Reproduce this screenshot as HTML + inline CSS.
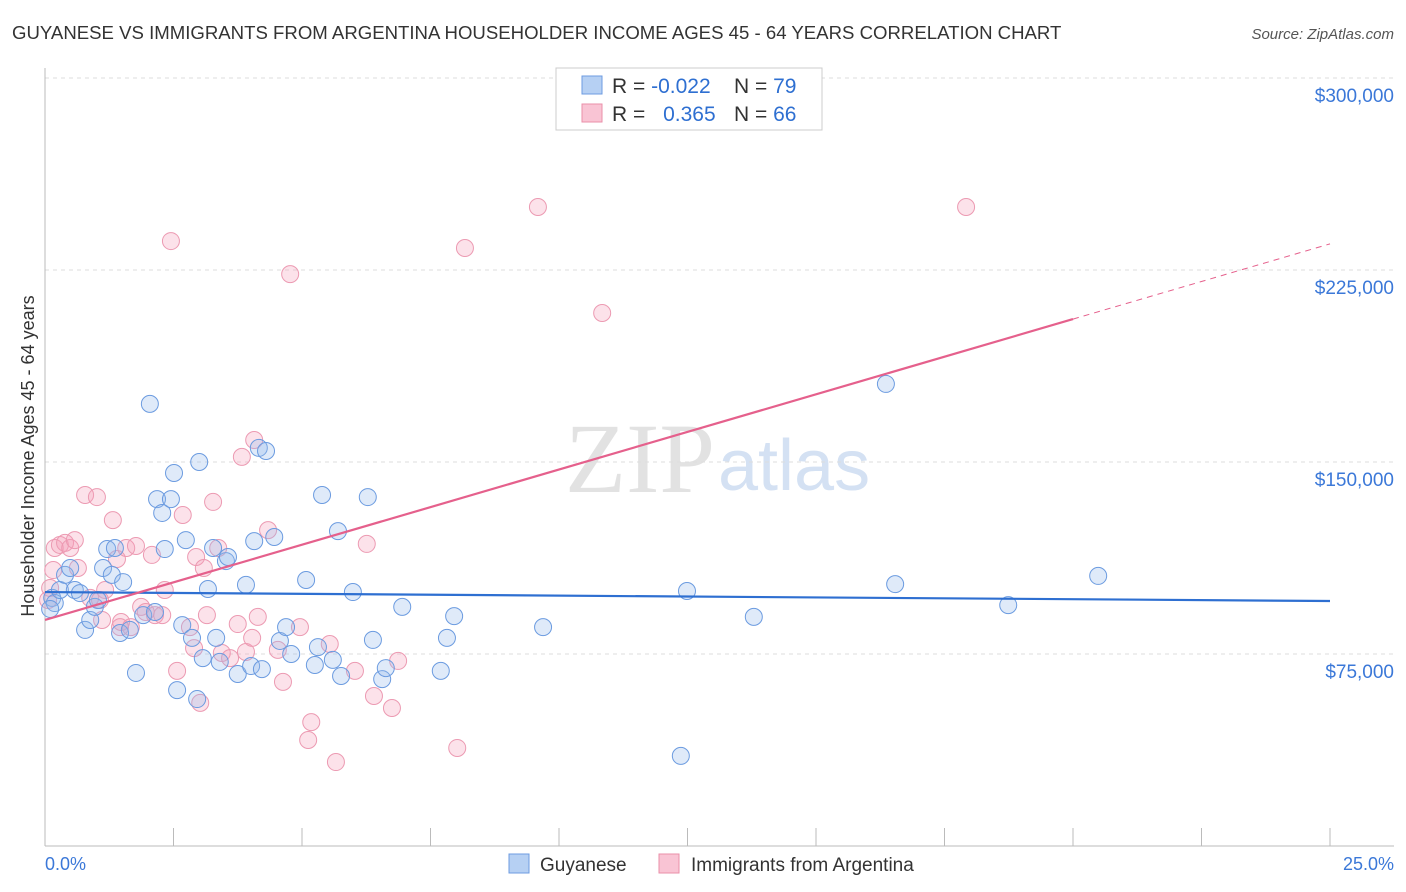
<!DOCTYPE html>
<html><head><meta charset="utf-8"><style>
body{margin:0;background:#fff;font-family:"Liberation Sans",sans-serif;}
#wrap{position:relative;width:1406px;height:892px;overflow:hidden;}
</style></head><body>
<div id="wrap">
<svg id="svg" width="1406" height="892" xmlns="http://www.w3.org/2000/svg">
<text x="12" y="39" font-size="18.6" fill="#333">GUYANESE VS IMMIGRANTS FROM ARGENTINA HOUSEHOLDER INCOME AGES 45 - 64 YEARS CORRELATION CHART</text>
<text x="1394" y="39" font-size="15" fill="#555" text-anchor="end" font-style="italic">Source: ZipAtlas.com</text>
<text x="34" y="456" font-size="18" fill="#333" text-anchor="middle" transform="rotate(-90 34 456)">Householder Income Ages 45 - 64 years</text>
<text x="715" y="492" font-size="100" fill="#e2e2e2" font-family="Liberation Serif,serif" text-anchor="end">ZIP</text>
<text x="718" y="490" font-size="72" fill="#d4e1f3">atlas</text>
<g id="grid"></g><g id="pts"></g><g id="lines"></g>
<g>
<rect x="556" y="68" width="266" height="62" fill="#fff" stroke="#ccc"/>
<rect x="582" y="76" width="20" height="18" fill="#b6d0f3" stroke="#6d9be0"/>
<rect x="582" y="104" width="20" height="18" fill="#f9c4d4" stroke="#ea8fa9"/>
<text x="612" y="93" font-size="21" fill="#333">R = <tspan fill="#2e6fd1">-0.022</tspan></text>
<text x="734" y="93" font-size="21" fill="#333">N = <tspan fill="#2e6fd1">79</tspan></text>
<text x="612" y="121" font-size="21" fill="#333">R = <tspan fill="#2e6fd1" dx="12">0.365</tspan></text>
<text x="734" y="121" font-size="21" fill="#333">N = <tspan fill="#2e6fd1">66</tspan></text>
</g>
<g>
<rect x="509" y="854" width="20" height="19" fill="#b6d0f3" stroke="#6d9be0"/>
<text x="540" y="871" font-size="19" fill="#333">Guyanese</text>
<rect x="659" y="854" width="20" height="19" fill="#f9c4d4" stroke="#ea8fa9"/>
<text x="691" y="871" font-size="19" fill="#333">Immigrants from Argentina</text>
</g>
<text x="45" y="870" font-size="18" fill="#3b78d8">0.0%</text>
<text x="1394" y="870" font-size="18" fill="#3b78d8" text-anchor="end">25.0%</text>
</svg></div>
<script>
const yTicks=[75000,150000,225000,300000];
const yTickLabels=["$75,000","$150,000","$225,000","$300,000"];
const blueX=[0.14,0.19,0.29,0.39,0.49,0.58,0.68,0.78,0.88,0.97,1.03,1.13,1.21,1.30,1.36,1.46,1.52,1.65,1.77,1.91,2.04,2.14,2.18,2.28,2.33,2.45,2.51,2.57,2.67,2.74,2.86,2.96,3.00,3.07,3.17,3.27,3.33,3.40,3.52,3.56,3.75,3.91,4.01,4.07,4.16,4.22,4.30,4.46,4.57,4.69,4.79,5.08,5.25,5.31,5.39,5.60,5.70,5.76,5.99,6.28,6.38,6.56,6.63,6.95,7.70,7.82,7.96,9.69,12.37,12.49,13.79,16.36,16.54,18.74,20.49,0.10];
const blueY=[96.9,94.9,100,105.9,108.6,100,98.8,84.4,88.3,93.4,96.1,108.6,116,105.9,116.4,83.2,103.1,84.4,67.6,90.2,172.7,91.4,135.5,130.1,116,135.5,145.7,60.9,86.3,119.5,81.3,57.4,150,73.4,100.4,116.4,81.3,71.9,111.3,112.9,67.2,102,70.3,119.1,155.5,69.1,154.3,120.7,80.1,85.5,75,103.9,70.7,77.7,137.1,72.7,123,66.4,99.2,136.3,80.5,65.2,69.5,93.4,68.4,81.3,89.8,85.5,35.2,99.6,89.5,180.5,102.3,94.1,105.5,92.6];
const pinkX=[0.10,0.19,0.29,0.39,0.49,0.64,0.78,0.88,1.01,1.11,1.17,1.32,1.40,1.48,1.58,1.67,1.77,1.87,1.96,2.08,2.14,2.28,2.33,2.45,2.57,2.68,2.82,2.90,2.94,3.02,3.09,3.15,3.27,3.37,3.44,3.60,3.75,3.83,3.91,4.03,4.07,4.14,4.34,4.53,4.63,4.77,4.96,5.12,5.18,5.54,5.66,6.03,6.26,6.40,6.75,6.87,8.02,8.17,9.59,10.84,17.92,0.16,0.06,0.58,1.46,1.07];
const pinkY=[100.8,116.4,117.6,118.4,116.4,108.6,137.1,96.9,136.3,88.3,100,127.3,112.1,87.5,116.4,85.5,117.2,93.4,91.4,113.7,90.2,90.2,100,236.3,68.4,129.3,85.5,77.3,112.9,55.9,108.6,90.2,134.4,116.4,75.4,73.4,86.7,152,75.8,81.3,158.6,89.5,123.4,76.6,64.1,223.4,85.5,41.4,48.4,78.9,32.8,68.4,118,58.6,53.9,72.3,38.3,233.6,249.6,208.2,249.6,107.8,96.1,119.5,85.5,96.1];
const blueTrend=[99.2,95.7];
const pinkTrend=[88.3,235.2];
const NS="http://www.w3.org/2000/svg";
const X=p=>45+p*51.4;
const Y=v=>846-v*1000*192/75000;
function mk(t,a,parent){const e=document.createElementNS(NS,t);for(const k in a)e.setAttribute(k,a[k]);parent.appendChild(e);return e;}
const grid=document.getElementById('grid');
yTicks.forEach((v,i)=>{
 const l=mk('line',{x1:45,x2:1394,y1:Y(v/1000),y2:Y(v/1000),stroke:'#ddd','stroke-dasharray':'4,4'},grid);
 
 
 const t=mk('text',{x:1394,y:Y(v/1000)+24,'font-size':19,fill:'#3b78d8','text-anchor':'end'},grid);
 t.textContent=yTickLabels[i];
 
 
});
mk('line',{x1:45,x2:45,y1:68,y2:846,stroke:'#bbb'},grid);
mk('line',{x1:45,x2:1394,y1:846,y2:846,stroke:'#bbb'},grid);
for(let i=0;i<=10;i++){const t=mk('line',{x1:X(i*2.5),x2:X(i*2.5),y1:828,y2:846,stroke:'#bbb'},grid);
 
 }
const pts=document.getElementById('pts');
pinkX.forEach((x,i)=>{const c=mk('circle',{cx:X(x),cy:Y(pinkY[i]),r:8.5,fill:'rgba(244,160,187,0.3)',stroke:'#ec9ab2','stroke-width':1},pts);
 
 });
blueX.forEach((x,i)=>{const c=mk('circle',{cx:X(x),cy:Y(blueY[i]),r:8.5,fill:'rgba(150,185,235,0.3)',stroke:'#6b9be0','stroke-width':1},pts);
 
 });
const lines=document.getElementById('lines');
const b=mk('line',{x1:X(0),y1:Y(blueTrend[0]),x2:X(25),y2:Y(blueTrend[1]),stroke:'#2e6fd1','stroke-width':2.2},lines);


const pm=(pinkTrend[1]-pinkTrend[0])/25;
const p1=mk('line',{x1:X(0),y1:Y(pinkTrend[0]),x2:X(20),y2:Y(pinkTrend[0]+pm*20),stroke:'#e5608c','stroke-width':2.2},lines);


const p2=mk('line',{x1:X(20),y1:Y(pinkTrend[0]+pm*20),x2:X(25),y2:Y(pinkTrend[1]),stroke:'#e5608c','stroke-width':1,'stroke-dasharray':'6,5'},lines);


</script>
</body></html>
